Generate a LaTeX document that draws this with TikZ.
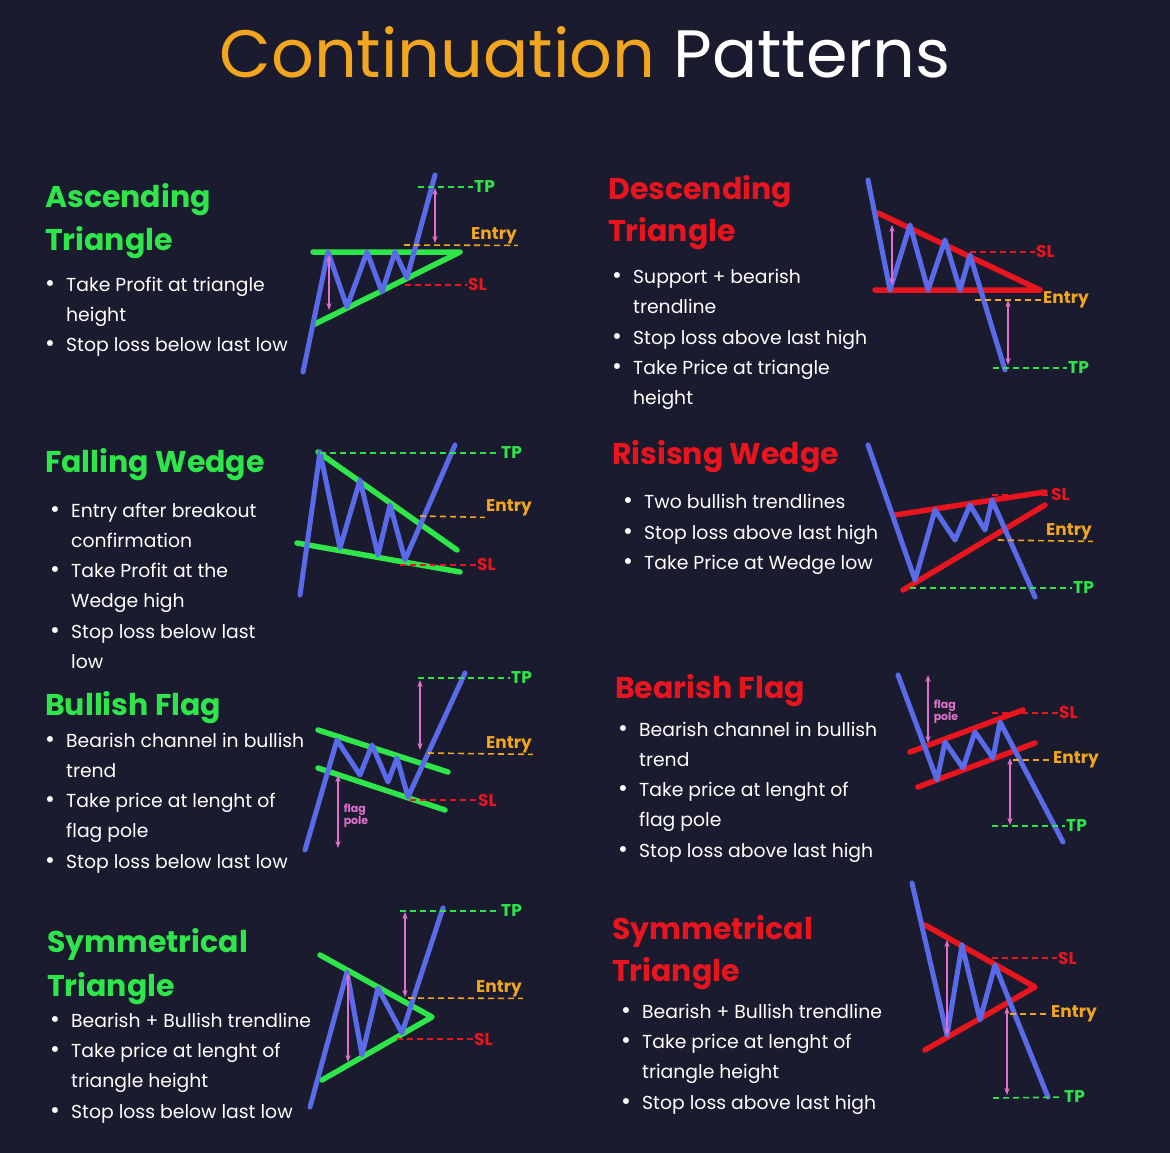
\documentclass[tikz,border=0pt]{standalone}
\usepackage{fontspec}
\setmainfont{Poppins}
\usetikzlibrary{arrows.meta}
\definecolor{bg}{HTML}{1B1B2F}
\definecolor{cg}{HTML}{2EE64A}
\definecolor{cr}{HTML}{E8141E}
\definecolor{cb}{HTML}{5A6BEA}
\definecolor{co}{HTML}{F2A51E}
\definecolor{cp}{HTML}{E070D0}
\tikzset{
 blue/.style={cb,line width=5pt,line cap=round,line join=round},
 gl/.style={cg,line width=5.5pt,line cap=round,line join=round},
 rl/.style={cr,line width=5.5pt,line cap=round,line join=round},
 dsh/.style={line width=1.6pt,dash pattern=on 6pt off 4pt},
 pk/.style={cp,line width=1.3pt,{Stealth[length=7pt]}-{Stealth[length=7pt]}},
 lab/.style={font=\bfseries\fontsize{17}{17}\selectfont,anchor=west,inner sep=1pt},
 txt/.style={text=white,font=\fontsize{18.8}{22}\selectfont,anchor=base west,inner sep=0pt},
 hd/.style={font=\bfseries\fontsize{30}{34}\selectfont,anchor=base west,inner sep=0pt},
}
\newcommand{\tl}[3]{\node[txt] at (#1,#2+7) {#3};}
\newcommand{\bl}[3]{\node[txt] at (#1-3,#2+7) {\fontsize{24}{22}\selectfont•}; \node[txt] at (#1+18,#2+7) {#3};}
\newcommand{\hh}[4]{\node[hd,text=#4] (#1) at (#2,#3+11) {\strut};}
\begin{document}
\begin{tikzpicture}[x=1pt,y=-1pt]
\fill[bg] (0,0) rectangle (1170,1153);
\useasboundingbox (0,0) rectangle (1170,1153);
\node[font=\fontsize{67}{70}\selectfont,inner sep=0pt] (title) at (585,52) {\textcolor{co}{Continuation} \textcolor{white}{Patterns}};

% ---------- Ascending triangle
\node[hd,text=cg] (h1a) at (45,207) {Ascending};
\node[hd,text=cg] (h1b) at (45,250) {Triangle};
\bl{48}{284}{Take Profit at triangle}
\tl{66}{314}{height}
\bl{48}{344}{Stop loss below last low}
\draw[gl] (313,252) -- (460,252) -- (313,325);
\draw[blue] (303,372) -- (328,252) -- (347,307) -- (367,252) -- (382,292) -- (395,252) -- (407,278) -- (435,175);
\draw[pk] (329,255) -- (329,310);
\draw[pk] (435,188) -- (435,243);
\coordinate (a1) at (418,187); \node[lab,text=cg] (tp1) at (473,187) {TP}; \draw[cg,dsh] (a1) -- (tp1);
\coordinate (a2) at (404,245); \node[lab,text=co] (en1) at (470,236) {Entry}; \draw[co,dsh] (a2) -- (en1.south east);
\coordinate (a3) at (405,285); \node[lab,text=cr] (sl1) at (467,285) {SL}; \draw[cr,dsh] (a3) -- (sl1);

% ---------- Descending triangle
\node[hd,text=cr] (h2a) at (608,199) {Descending};
\node[hd,text=cr] (h2b) at (608,241) {Triangle};
\bl{615}{276}{Support + bearish}
\tl{633}{306}{trendline}
\bl{615}{337}{Stop loss above last high}
\bl{615}{367}{Take Price at triangle}
\tl{633}{397}{height}
\draw[rl] (878,213) -- (1040,290) -- (875,290);
\draw[blue] (868,180) -- (890,290) -- (910,225) -- (928,290) -- (945,240) -- (960,290) -- (970,255) -- (1005,370);
\draw[pk] (892,225) -- (892,285);
\draw[pk] (1008,300) -- (1008,365);
\coordinate (b1) at (970,252); \node[lab,text=cr] (sl2) at (1035,252) {SL}; \draw[cr,dsh] (b1) -- (sl2);
\coordinate (b2) at (975,300); \node[lab,text=co] (en2) at (1042,300) {Entry}; \draw[co,dsh] (b2) -- (en2);
\coordinate (b3) at (993,368); \node[lab,text=cg] (tp2) at (1067,368) {TP}; \draw[cg,dsh] (b3) -- (tp2);

% ---------- Falling wedge
\node[hd,text=cg] (h3) at (45,472) {Falling Wedge};
\bl{53}{510}{Entry after breakout}
\tl{71}{540}{confirmation}
\bl{53}{570}{Take Profit at the}
\tl{71}{600}{Wedge high}
\bl{53}{631}{Stop loss below last}
\tl{71}{661}{low}
\draw[gl] (318,452) -- (457,550);
\draw[gl] (297,543) -- (460,572);
\draw[blue] (300,595) -- (320,452) -- (340,548) -- (360,480) -- (378,555) -- (390,505) -- (405,560) -- (455,445);
\coordinate (c1) at (320,453); \node[lab,text=cg] (tp3) at (500,453) {TP}; \draw[cg,dsh] (c1) -- (tp3);
\coordinate (c2) at (420,516); \node[lab,text=co] (en3) at (485,508) {Entry}; \draw[co,dsh] (c2) -- (en3.south west);
\coordinate (c3) at (400,565); \node[lab,text=cr] (sl3) at (476,565) {SL}; \draw[cr,dsh] (c3) -- (sl3);

% ---------- Rising wedge
\node[hd,text=cr] (h4) at (612,464) {Risisng Wedge};
\bl{626}{501}{Two bullish trendlines}
\bl{626}{532}{Stop loss above last high}
\bl{626}{562}{Take Price at Wedge low}
\draw[rl] (895,515) -- (1045,492);
\draw[rl] (903,590) -- (1045,505);
\draw[blue] (868,445) -- (915,580) -- (935,510) -- (955,540) -- (970,505) -- (985,530) -- (992,500) -- (1035,597);
\coordinate (d1) at (992,495); \node[lab,text=cr] (sl4) at (1050,495) {SL}; \draw[cr,dsh] (d1) -- (sl4);
\coordinate (d2) at (998,540); \node[lab,text=co] (en4) at (1045,532) {Entry}; \draw[co,dsh] (d2) -- (en4.south east);
\coordinate (d3) at (910,588); \node[lab,text=cg] (tp4) at (1072,588) {TP}; \draw[cg,dsh] (d3) -- (tp4);

% ---------- Bullish flag
\node[hd,text=cg] (h5) at (45,715) {Bullish Flag};
\bl{48}{740}{Bearish channel in bullish}
\tl{66}{770}{trend}
\bl{48}{800}{Take price at lenght of}
\tl{66}{830}{flag pole}
\bl{48}{861}{Stop loss below last low}
\draw[gl] (318,730) -- (448,772);
\draw[gl] (318,768) -- (445,810);
\draw[blue] (305,850) -- (337,740) -- (360,775) -- (372,745) -- (388,782) -- (397,758) -- (408,797) -- (465,673);
\draw[pk] (420,680) -- (420,750);
\draw[pk] (338,775) -- (338,848);
\node[text=cp,font=\bfseries\fontsize{11}{11}\selectfont,align=left,inner sep=0pt] (fp1) at (356,816) {flag\\pole};
\coordinate (e1) at (418,678); \node[lab,text=cg] (tp5) at (510,678) {TP}; \draw[cg,dsh] (e1) -- (tp5);
\coordinate (e2) at (428,753); \node[lab,text=co] (en5) at (485,745) {Entry}; \draw[co,dsh] (e2) -- (en5.south east);
\coordinate (e3) at (410,800); \node[lab,text=cr] (sl5) at (477,800) {SL}; \draw[cr,dsh] (e3) -- (sl5);

% ---------- Bearish flag
\node[hd,text=cr] (h6) at (615,698) {Bearish Flag};
\bl{621}{729}{Bearish channel in bullish}
\tl{639}{759}{trend}
\bl{621}{789}{Take price at lenght of}
\tl{639}{819}{flag pole}
\bl{621}{850}{Stop loss above last high}
\draw[rl] (910,752) -- (1023,710);
\draw[rl] (918,787) -- (1035,743);
\draw[blue] (898,675) -- (937,780) -- (945,742) -- (963,768) -- (975,732) -- (993,758) -- (1000,722) -- (1063,842);
\draw[pk] (928,675) -- (928,743);
\node[text=cp,font=\bfseries\fontsize{11}{11}\selectfont,align=left,inner sep=0pt] (fp2) at (946,712) {flag\\pole};
\draw[pk] (1010,758) -- (1010,825);
\coordinate (f1) at (992,713); \node[lab,text=cr] (sl6) at (1058,713) {SL}; \draw[cr,dsh] (f1) -- (sl6);
\coordinate (f2) at (1013,760); \node[lab,text=co] (en6) at (1052,760) {Entry}; \draw[co,dsh] (f2) -- (en6);
\coordinate (f3) at (992,826); \node[lab,text=cg] (tp6) at (1065,826) {TP}; \draw[cg,dsh] (f3) -- (tp6);

% ---------- Symmetrical triangle (bullish)
\node[hd,text=cg] (h7a) at (47,952) {Symmetrical};
\node[hd,text=cg] (h7b) at (47,996) {Triangle};
\bl{53}{1020}{Bearish + Bullish trendline}
\bl{53}{1050}{Take price at lenght of}
\tl{71}{1080}{triangle height}
\bl{53}{1111}{Stop loss below last low}
\draw[gl] (320,955) -- (432,1017) -- (322,1080);
\draw[blue] (310,1107) -- (347,972) -- (362,1055) -- (378,988) -- (402,1033) -- (443,908);
\draw[pk] (348,973) -- (348,1062);
\draw[pk] (405,912) -- (405,997);
\coordinate (g1) at (400,911); \node[lab,text=cg] (tp7) at (500,911) {TP}; \draw[cg,dsh] (g1) -- (tp7);
\coordinate (g2) at (408,998); \node[lab,text=co] (en7) at (475,989) {Entry}; \draw[co,dsh] (g2) -- (en7.south east);
\coordinate (g3) at (397,1039); \node[lab,text=cr] (sl7) at (473,1039) {SL}; \draw[cr,dsh] (g3) -- (sl7);

% ---------- Symmetrical triangle (bearish)
\node[hd,text=cr] (h8a) at (612,939) {Symmetrical};
\node[hd,text=cr] (h8b) at (612,981) {Triangle};
\bl{624}{1011}{Bearish + Bullish trendline}
\bl{624}{1041}{Take price at lenght of}
\tl{642}{1071}{triangle height}
\bl{624}{1102}{Stop loss above last high}
\draw[rl] (925,925) -- (1035,987) -- (925,1050);
\draw[blue] (912,883) -- (947,1035) -- (962,945) -- (980,1020) -- (995,965) -- (1048,1097);
\draw[pk] (947,940) -- (947,1035);
\draw[pk] (1007,1007) -- (1007,1095);
\coordinate (k1) at (992,958); \node[lab,text=cr] (sl8) at (1057,958) {SL}; \draw[cr,dsh] (k1) -- (sl8);
\coordinate (k2) at (1010,1014); \node[lab,text=co] (en8) at (1050,1014) {Entry}; \draw[co,dsh] (k2) -- (en8);
\coordinate (k3) at (993,1098); \node[lab,text=cg] (tp8) at (1063,1097) {TP}; \draw[cg,dsh] (k3) -- (tp8);
\end{tikzpicture}
\end{document}
